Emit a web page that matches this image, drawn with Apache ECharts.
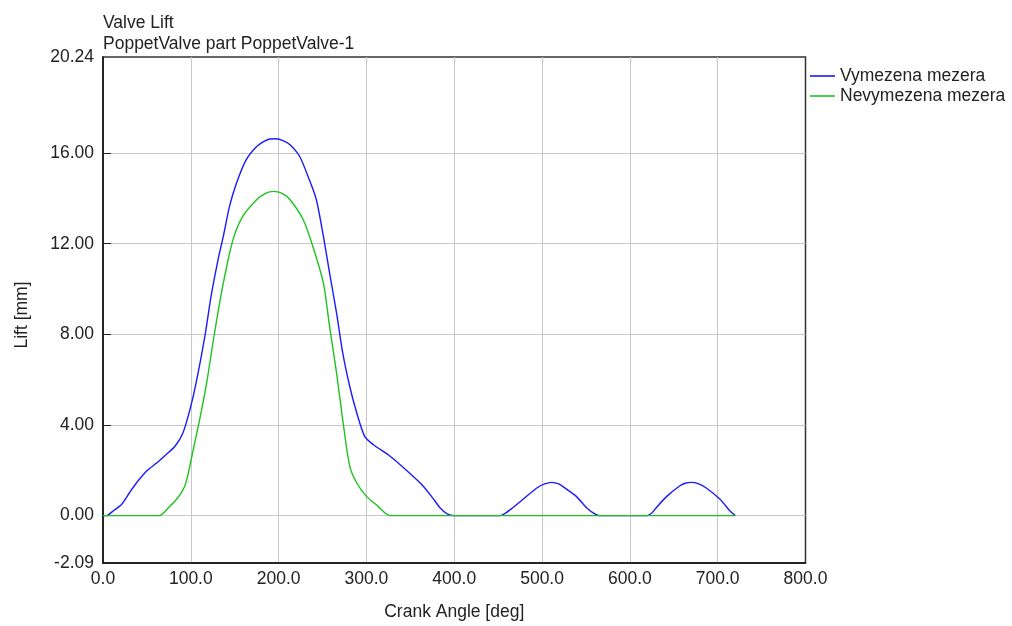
<!DOCTYPE html>
<html>
<head>
<meta charset="utf-8">
<title>Valve Lift</title>
<script src="https://cdn.jsdelivr.net/npm/echarts@6/dist/echarts.min.js"></script>
<style>
  html, body { margin: 0; padding: 0; background: #fff; }
  #chart { width: 1012px; height: 626px; }
</style>
</head>
<body>
<div id="chart"></div>
<script>
// Valve lift vs crank angle, two clearance settings
const titleLines = ['Valve Lift', 'PoppetValve part PoppetValve-1'];
const seriesNames = ['Vymezena mezera', 'Nevymezena mezera'];

// Vymezena mezera (blue)
const angleA = [0, 4, 11, 21, 30, 38, 50, 61, 72, 82, 91, 99, 106, 116, 123, 131, 137, 144, 152, 163,
  175, 184, 190, 197, 205, 213, 224, 235, 243, 251, 258, 266, 273, 281, 289, 298, 308, 327, 349, 365,
  376, 384, 392, 400, 452, 458, 465, 478, 494, 503, 511, 519, 525, 539, 551, 560, 566,
  619, 625, 630, 642, 657, 664, 670, 677, 687, 703, 713, 720];
const liftA = [0, 0, 0.19, 0.49, 1.0, 1.44, 1.98, 2.32, 2.7, 3.06, 3.65, 4.68, 5.85, 7.91, 9.67, 11.29, 12.32, 13.64, 14.67, 15.70,
  16.29, 16.53, 16.62, 16.63, 16.55, 16.37, 15.85, 14.82, 13.94, 12.32, 10.71, 8.94, 7.18, 5.70, 4.53, 3.50, 3.13, 2.62, 1.88, 1.29,
  0.75, 0.34, 0.08, 0, 0, 0.1, 0.3, 0.71, 1.22, 1.4, 1.47, 1.4, 1.25, 0.85, 0.34, 0.08, 0,
  0, 0.12, 0.35, 0.85, 1.32, 1.44, 1.47, 1.42, 1.22, 0.71, 0.25, 0];

// Nevymezena mezera (green)
const angleB = [0, 64, 76, 85, 93, 97, 102, 110, 118, 127, 137, 148, 159, 175, 185, 194, 204, 213, 228, 239,
  251, 258, 266, 273, 281, 289, 300, 311, 327, 720];
const liftB = [0, 0, 0.41, 0.78, 1.29, 1.85, 2.77, 4.23, 5.85, 8.06, 10.26, 12.17, 13.20, 13.94, 14.22, 14.31, 14.22, 13.94, 13.06, 11.88,
  10.26, 8.35, 6.29, 4.23, 2.17, 1.44, 0.85, 0.49, 0, 0];

// Axis ranges and tick values
const xMin = 0, xMax = 800, xStep = 100;
const yMin = -2.09, yMax = 20.24;
const yTicks = [0, 4, 8, 12, 16];
const yLabels = [yMin, 0, 4, 8, 12, 16, yMax];

const FONT = 'Liberation Sans, Arial, sans-serif';
const FS = 17.5;
const TXT = '#222';
const GRID_COLOR = '#c8c8c8';

const zip = (xs, ys) => xs.map((x, i) => [x, ys[i]]);

const chart = echarts.init(document.getElementById('chart'), null, { renderer: 'canvas' });
chart.setOption({
  animation: false,
  backgroundColor: '#fff',
  textStyle: { fontFamily: FONT, color: TXT },
  title: {
    text: titleLines.join('\n'),
    left: 103,
    top: 12,
    padding: 0,
    textStyle: { fontFamily: FONT, fontSize: FS, fontWeight: 'normal', color: TXT, lineHeight: 21.5 }
  },
  legend: {
    orient: 'vertical',
    left: 810,
    top: 67,
    padding: 0,
    itemWidth: 25,
    itemHeight: 1.6,
    itemGap: 2,
    icon: 'rect',
    data: seriesNames,
    textStyle: { fontFamily: FONT, fontSize: FS, color: TXT, lineHeight: 18 }
  },
  grid: {
    left: 103, right: 206.5, top: 57, bottom: 62,
    show: true, borderColor: '#333', borderWidth: 1.5,
    containLabel: false
  },
  xAxis: {
    type: 'value',
    min: xMin, max: xMax, interval: xStep,
    name: 'Crank Angle [deg]',
    nameLocation: 'middle',
    nameGap: 40,
    nameTextStyle: { fontFamily: FONT, fontSize: FS, color: TXT },
    axisLine: { show: true, onZero: false, lineStyle: { color: '#111', width: 1.5 } },
    axisTick: { show: false },
    axisLabel: {
      fontFamily: FONT, fontSize: FS, color: TXT, margin: 7,
      formatter: v => v.toFixed(1)
    },
    splitLine: { show: true, showMinLine: false, showMaxLine: false, lineStyle: { color: GRID_COLOR, width: 1 } }
  },
  yAxis: {
    type: 'value',
    min: yMin, max: yMax,
    axisLine: { show: true, onZero: false, lineStyle: { color: '#111', width: 1.5 } },
    axisTick: { show: true, inside: true, length: 8, customValues: yTicks, lineStyle: { color: '#222' } },
    axisLabel: {
      fontFamily: FONT, fontSize: FS, color: TXT, margin: 9,
      customValues: yLabels,
      formatter: v => Number(v).toFixed(2)
    },
    splitLine: { show: true, lineStyle: { color: GRID_COLOR, width: 1 } }
  },
  graphic: [{
    type: 'text',
    x: 22, y: 315,
    rotation: Math.PI / 2,
    style: {
      text: 'Lift [mm]',
      font: FS + 'px ' + FONT,
      fill: TXT,
      textAlign: 'center',
      textVerticalAlign: 'middle'
    }
  }],
  series: [
    {
      name: seriesNames[0],
      type: 'line',
      data: zip(angleA, liftA),
      smooth: 0.25,
      showSymbol: false,
      symbol: 'none',
      lineStyle: { color: '#1a1aff', width: 1.4 },
      itemStyle: { color: '#1a1aff' }
    },
    {
      name: seriesNames[1],
      type: 'line',
      data: zip(angleB, liftB),
      smooth: 0.25,
      showSymbol: false,
      symbol: 'none',
      lineStyle: { color: '#1ec21e', width: 1.4 },
      itemStyle: { color: '#1ec21e' }
    }
  ]
});
</script>
</body>
</html>
